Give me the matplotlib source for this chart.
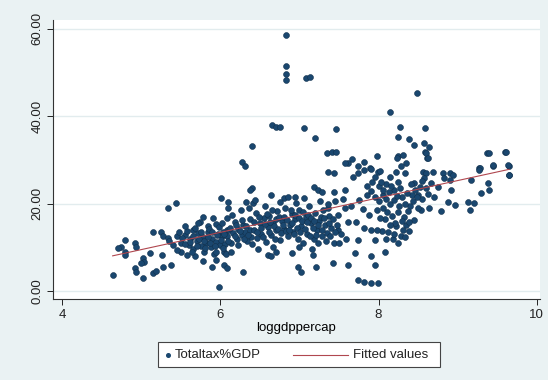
import numpy as np
import matplotlib.pyplot as plt
from matplotlib.patches import Rectangle
from matplotlib.lines import Line2D

plt.rcParams['font.family'] = ['Liberation Sans', 'DejaVu Sans']

# log GDP per capita (x) and total tax as % of GDP (y), one pair per country-year
loggdppercap = [
    # high-tax observations
    6.83, 6.83, 6.83, 6.83, 7.08, 7.13, 8.49, 8.14,
    6.65, 6.70, 6.75, 7.06, 7.46, 8.27, 8.59, 7.20, 8.25,
    6.40, 6.27, 6.31, 6.40,
    8.38, 8.45, 8.57, 8.64, 8.59, 8.61, 9.37, 9.60, 9.44, 9.65, 9.65, 9.27, 7.35, 7.41, 7.46,
    # poorest countries
    5.34, 5.44, 5.15, 5.25, 5.28, 5.34, 4.79, 4.75, 4.71, 4.79, 4.92, 4.94, 4.79, 5.11,
    5.02, 5.04, 5.00, 4.92, 4.94, 4.64, 5.02, 5.15, 5.19, 5.28, 5.38, 5.26, 5.78, 5.74,
    5.91, 5.95, 5.89,
    5.45, 5.50, 5.55, 5.60, 5.62, 5.65, 5.70, 5.72, 5.75, 5.78, 5.80, 5.82, 5.85, 5.88,
    5.90, 5.92, 5.95, 5.97, 6.00, 6.02, 5.50, 5.58, 5.68, 5.40, 5.45, 5.35, 5.65, 5.85,
    6.05, 6.08, 5.78, 5.95, 6.05,
    5.48, 5.52, 5.56, 5.58, 5.62, 5.64, 5.66, 5.68, 5.70, 5.73, 5.76, 5.79, 5.81, 5.84,
    5.86, 5.87, 5.90, 5.93, 5.96, 5.98, 6.01, 6.04, 6.06, 6.09, 6.11, 6.13, 6.16, 6.19,
    6.21, 6.23, 6.27, 6.29, 6.31, 6.34, 6.37, 6.39, 5.55, 5.72, 5.94, 6.07,
    # middle income
    7.36, 7.44, 7.61, 7.68, 7.74, 7.82, 7.89, 7.99, 7.19, 7.23, 7.28, 7.44, 7.57,
    6.01, 6.10, 6.37, 6.33, 6.41, 6.64, 6.81, 6.94, 7.36, 7.57, 7.49, 7.61, 7.72,
    7.49, 7.59, 7.74, 7.82, 7.91, 7.95, 7.23, 7.44, 7.17, 6.60, 6.64, 6.90, 7.70, 7.91,
    7.21, 7.42, 7.61, 6.98, 7.02, 6.29, 6.08, 5.99, 7.74, 7.82, 7.91, 7.99, 7.95,
    6.02, 6.05, 6.08, 6.10, 6.12, 6.15, 6.18, 6.20, 6.22, 6.25, 6.28, 6.30, 6.03, 6.14, 6.26, 6.10,
    6.32, 6.35, 6.38, 6.40, 6.42, 6.45, 6.47, 6.50, 6.52, 6.55, 6.58, 6.60, 6.36, 6.48, 6.56, 6.44,
    6.62, 6.64, 6.67, 6.70, 6.72, 6.75, 6.78, 6.80, 6.82, 6.85, 6.88, 6.90, 6.66, 6.76, 6.86, 6.70,
    6.92, 6.95, 6.98, 7.00, 7.02, 7.05, 7.08, 7.10, 7.12, 7.15, 7.18, 7.20, 6.96, 7.06, 7.16, 7.00,
    7.22, 7.25, 7.28, 7.30, 7.32, 7.35, 7.38, 7.40, 7.26, 7.36,
    6.43, 6.46, 6.49, 6.51, 6.54, 6.57, 6.59, 6.61, 6.63, 6.65, 6.68, 6.69, 6.71, 6.73,
    6.74, 6.77, 6.79, 6.81, 6.83, 6.84, 6.87, 6.89, 6.91, 6.93, 6.94, 6.97, 6.99, 7.01,
    7.03, 7.04, 7.07, 7.09, 7.11, 7.13, 7.14, 7.17, 7.19, 7.21, 7.24, 7.27, 7.29, 7.31,
    7.34, 7.37, 7.39, 7.42, 7.45, 7.48, 7.50, 7.53,
    # upper-middle and high income
    8.60, 8.62, 8.24, 8.31, 8.35, 8.22, 8.33, 8.56, 8.60, 8.69, 8.81, 8.90, 8.94, 8.58,
    8.83, 8.90, 8.75, 8.92, 8.45, 9.17, 9.28, 9.44, 9.63, 9.65, 9.40, 9.61, 9.30, 9.40,
    9.38, 8.88, 8.96, 9.13, 9.21, 9.15, 8.79, 8.64, 8.54, 8.45, 8.08,
    8.05, 8.10, 8.15, 8.20, 8.25, 8.30, 8.35, 8.40, 8.08, 8.12, 8.18, 8.22, 8.28, 8.32,
    8.38, 8.05, 8.42, 8.15, 8.25,
    7.45, 7.55, 7.65, 7.75, 7.85, 7.95, 8.00, 7.92, 7.98, 7.88, 7.80,
    7.58, 7.66, 7.74, 7.82, 7.90, 7.98, 8.02, 8.23, 8.28, 9.27, 8.50, 8.55, 8.60,
    7.85, 7.90, 7.95, 8.00, 8.03, 8.06, 8.09, 8.11, 8.13, 8.16, 8.17, 8.19, 8.21, 8.23,
    8.26, 8.27, 8.29, 8.31, 8.33, 8.36, 8.37, 8.39, 8.41, 8.43, 8.46, 8.48, 8.50, 8.52,
    8.55, 8.62, 8.66, 8.70, 8.10, 8.20, 8.14, 8.04, 8.02, 7.98, 8.24, 8.34,
]

totaltax = [
    58.6, 51.4, 49.7, 48.3, 48.8, 49.0, 45.4, 40.9,
    38.0, 37.6, 37.6, 37.3, 37.1, 37.6, 37.4, 35.0, 35.3,
    33.2, 29.6, 28.7, 23.5,
    34.7, 33.4, 33.8, 33.0, 31.9, 30.4, 31.5, 31.8, 28.7, 28.7, 26.6, 28.1, 31.5, 31.9, 31.9,
    18.9, 20.2, 13.6, 13.6, 12.6, 12.2, 11.7, 10.1, 9.8, 9.0, 10.9, 10.1, 8.2, 8.6,
    7.5, 6.7, 6.4, 5.2, 4.4, 3.7, 2.9, 4.2, 4.6, 5.4, 5.9, 8.2, 17.0, 15.9,
    16.6, 15.4, 5.6,
    12.5, 11.0, 12.8, 10.5, 12.0, 9.5, 11.5, 13.2, 10.2, 12.3, 9.0, 11.0, 13.5, 10.0,
    12.0, 8.5, 11.2, 13.0, 10.5, 12.5, 9.0, 8.2, 8.0, 10.5, 9.3, 11.5, 14.0, 14.8,
    9.0, 14.0, 6.8, 7.2, 6.0,
    13.5, 12.2, 10.8, 13.8, 11.2, 9.0, 12.6, 14.4, 10.2, 12.0, 13.6, 11.4, 9.8, 12.4,
    14.2, 11.0, 13.4, 10.4, 12.8, 14.6, 11.6, 13.6, 10.8, 12.6, 14.0, 11.0, 13.2, 15.8,
    12.0, 14.2, 12.8, 15.2, 13.4, 11.4, 14.0, 12.4, 14.8, 15.6, 9.0, 8.4,
    27.3, 27.0, 29.2, 26.2, 27.0, 27.7, 28.1, 27.3, 23.9, 23.1, 22.7, 22.7, 23.1,
    21.2, 20.4, 23.1, 20.4, 20.1, 22.0, 21.2, 21.6, 18.9, 18.9, 17.4, 15.9, 15.9,
    14.0, 11.8, 11.7, 14.4, 14.0, 11.7, 10.9, 10.9, 8.2, 8.2, 7.9, 8.6, 8.6, 7.9,
    5.6, 6.3, 6.0, 5.6, 4.4, 4.4, 5.2, 1.0, 2.5, 2.1, 1.9, 1.8, 6.0,
    15.5, 13.0, 16.8, 11.5, 14.5, 17.5, 12.5, 15.0, 10.5, 13.8, 16.2, 11.8, 9.8, 9.0, 18.5, 19.0,
    14.8, 12.8, 16.5, 10.8, 14.0, 17.8, 12.2, 15.5, 13.0, 16.8, 11.2, 14.6, 18.9, 9.6, 19.5, 20.8,
    17.2, 12.8, 15.6, 13.9, 18.2, 11.6, 16.0, 14.2, 19.0, 12.5, 15.2, 17.6, 10.0, 20.3, 21.5, 9.0,
    13.4, 16.4, 12.0, 18.5, 14.8, 10.9, 17.0, 13.0, 19.5, 15.5, 11.8, 17.8, 20.2, 21.3, 9.5, 10.0,
    14.0, 16.0, 12.5, 18.6, 15.0, 13.2, 17.2, 14.5, 20.5, 19.8,
    15.8, 13.6, 17.0, 14.4, 12.4, 15.4, 17.6, 13.4, 15.8, 18.6, 14.8, 12.0, 16.4, 14.2,
    17.0, 13.2, 15.0, 17.0, 13.8, 16.2, 14.0, 18.6, 15.6, 13.0, 17.4, 14.4, 16.8, 13.6,
    16.0, 18.0, 14.2, 15.8, 17.4, 12.6, 16.6, 14.4, 16.0, 12.8, 15.2, 17.0, 14.0, 16.6,
    11.4, 15.6, 12.6, 16.4, 13.6, 15.0, 11.0, 13.0,
    31.5, 30.4, 30.8, 31.1, 29.2, 27.3, 27.0, 27.3, 27.0, 27.3, 27.0, 27.0, 26.6, 25.8,
    25.8, 25.4, 23.9, 23.1, 24.7, 25.4, 28.1, 28.9, 28.9, 26.6, 31.5, 31.7, 22.4, 23.1,
    24.7, 20.4, 19.7, 20.4, 20.1, 18.5, 18.2, 18.9, 18.5, 16.3, 9.0,
    22.0, 24.5, 20.0, 23.0, 18.0, 21.5, 15.0, 19.5, 16.5, 13.5, 11.8, 14.8, 12.5, 17.0,
    13.8, 19.0, 22.0, 26.0, 25.0,
    20.5, 21.0, 19.5, 20.8, 22.0, 21.5, 24.0, 25.0, 18.5, 17.5, 18.8,
    29.2, 30.3, 28.5, 29.6, 28.0, 30.8, 27.5, 30.5, 28.5, 27.7, 22.0, 21.0, 23.5,
    24.0, 22.8, 26.0, 20.6, 25.0, 23.2, 21.0, 18.0, 22.6, 24.0, 17.2, 20.8, 15.6, 21.8,
    19.4, 23.6, 16.0, 14.0, 20.0, 22.4, 18.2, 15.8, 24.4, 20.6, 23.0, 21.4, 19.0, 23.8,
    25.2, 22.2, 24.6, 21.4, 12.0, 13.0, 15.0, 13.8, 16.8, 14.0, 11.0, 12.4,
]

x = np.array(loggdppercap)
y = np.array(totaltax)

# linear fit of tax share on log income
slope, intercept = np.polyfit(x, y, 1)
fit_x = np.array([x.min(), x.max()])
fit_y = intercept + slope * fit_x

navy = '#1a476f'
maroon = '#b0474f'

fig = plt.figure(figsize=(5.48, 3.80), dpi=100)
fig.patch.set_facecolor('#eaf2f3')
ax = fig.add_axes([0.0967, 0.2132, 0.8887, 0.734])
ax.set_facecolor('white')

ax.scatter(x, y, s=18, color=navy, edgecolors='#10304d', linewidths=0.4, zorder=3)
ax.plot(fit_x, fit_y, color=maroon, lw=0.8, zorder=4)

ax.set_xlim(3.886, 10.04)
ax.set_ylim(-1.83, 62.0)
ax.set_xticks([4, 6, 8, 10])
ax.set_yticks([0, 20, 40, 60])
ax.set_yticklabels(['0.00', '20.00', '40.00', '60.00'], rotation=90, va='center')
ax.tick_params(axis='both', labelsize=9.5, length=4, width=0.7, colors='#222222', pad=3)
ax.yaxis.grid(True, color='#e2ecee', lw=1.0)
ax.set_axisbelow(True)

for side in ['top', 'right']:
    ax.spines[side].set_visible(False)
for side in ['left', 'bottom']:
    ax.spines[side].set_color('#333333')
    ax.spines[side].set_linewidth(0.8)

ax.set_xlabel('loggdppercap', fontsize=9.5, labelpad=1)

# legend box drawn in figure coordinates: small marker key, long line key
ly = 0.0671
fig.add_artist(Rectangle((0.2883, 0.0342), 0.5146, 0.0658, transform=fig.transFigure,
                         facecolor='white', edgecolor='#444444', lw=0.8))
fig.add_artist(Line2D([0.3066], [ly], transform=fig.transFigure, marker='o',
                      markersize=2.6, color=navy, linestyle='none'))
fig.text(0.3193, ly, 'Totaltax%GDP', fontsize=9.5, va='center', ha='left', color='#222222')
fig.add_artist(Line2D([0.5347, 0.6350], [ly, ly], transform=fig.transFigure,
                      color=maroon, lw=0.8))
fig.text(0.6442, ly, 'Fitted values', fontsize=9.5, va='center', ha='left', color='#222222')

fig.savefig('out.png', dpi=100, facecolor=fig.get_facecolor())
